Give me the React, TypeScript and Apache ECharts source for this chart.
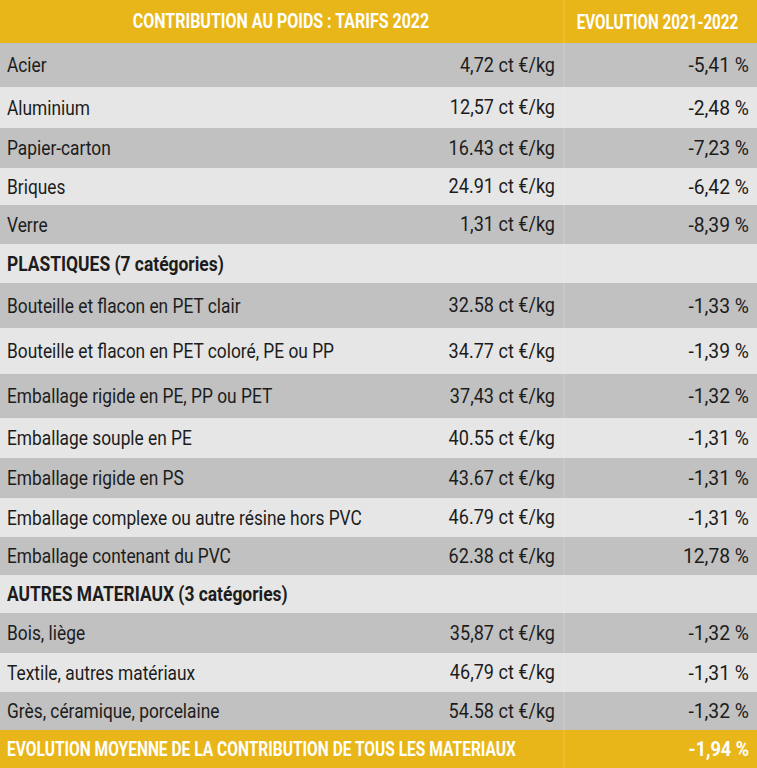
import React, { useEffect, useRef } from "react";
import * as echarts from "echarts";

// ---- data ----
const headerLabels = ["CONTRIBUTION AU POIDS : TARIFS 2022", "EVOLUTION 2021-2022"];
const categories = [
  "Acier",
  "Aluminium",
  "Papier-carton",
  "Briques",
  "Verre",
  "PLASTIQUES (7 catégories)",
  "Bouteille et flacon en PET clair",
  "Bouteille et flacon en PET coloré, PE ou PP",
  "Emballage rigide en PE, PP ou PET",
  "Emballage souple en PE",
  "Emballage rigide en PS",
  "Emballage complexe ou autre résine hors PVC",
  "Emballage contenant du PVC",
  "AUTRES MATERIAUX (3 catégories)",
  "Bois, liège",
  "Textile, autres matériaux",
  "Grès, céramique, porcelaine",
];
const tariffs = [
  "4,72", "12,57", "16.43", "24.91", "1,31", "",
  "32.58", "34.77", "37,43", "40.55", "43.67", "46.79", "62.38", "",
  "35,87", "46,79", "54.58",
];
const evolutions = [
  "-5,41", "-2,48", "-7,23", "-6,42", "-8,39", "",
  "-1,33", "-1,39", "-1,32", "-1,31", "-1,31", "-1,31", "12,78", "",
  "-1,32", "-1,31", "-1,32",
];
const sectionRows = [5, 13];
const tariffUnit = " ct €/kg";
const evolutionUnit = " %";
const footerLabel = "EVOLUTION MOYENNE DE LA CONTRIBUTION DE TOUS LES MATERIAUX";
const footerValue = "-1,94";

// ---- layout ----
const W = 757;
const H = 768;
const bounds = [0, 43, 87, 128, 168, 205, 244, 283, 328, 374, 418, 458, 498, 537, 575, 613, 653, 692, 730, 768];
const COL_SPLIT = 564;
const YELLOW = "#E9B619";
const DARK = "#C1C1C1";
const LIGHT = "#E6E6E6";
const TEXT = "#1C1C1C";
const FONT = "Roboto, 'Noto Sans', sans-serif";

function txt(text: string, x: number, y: number, align: string, opts: any = {}) {
  return {
    type: "group",
    x,
    y,
    scaleX: opts.scaleX ?? 0.8,
    children: [
      {
        type: "text",
        x: 0,
        y: 0,
        style: {
          text,
          fill: opts.fill ?? TEXT,
          font: `${opts.weight ?? "normal"} ${opts.size ?? 21}px ${FONT}`,
          textAlign: align,
          textVerticalAlign: "middle",
        },
      },
    ],
  };
}

export default function App() {
  const ref = useRef<HTMLDivElement>(null);
  useEffect(() => {
    document.body.style.margin = "0";
    const chart = echarts.init(ref.current!, undefined, { renderer: "svg" });
    const els: any[] = [];
    // header
    els.push({ type: "rect", shape: { x: 0, y: bounds[0], width: W, height: bounds[1] - bounds[0] }, style: { fill: YELLOW } });
    const hy = (bounds[0] + bounds[1]) / 2;
    els.push(txt(headerLabels[0], COL_SPLIT / 2 - 1, hy, "center", { fill: "#fff", weight: "bold", scaleX: 0.762 }));
    els.push(txt(headerLabels[1], (COL_SPLIT + W) / 2 - 3, hy, "center", { fill: "#fff", weight: "bold", scaleX: 0.725 }));
    // rows
    categories.forEach((c, i) => {
      const y0 = bounds[i + 1];
      const y1 = bounds[i + 2];
      const cy = (y0 + y1) / 2;
      els.push({ type: "rect", shape: { x: 0, y: y0, width: W, height: y1 - y0 }, style: { fill: i % 2 === 0 ? DARK : LIGHT } });
      const isSection = sectionRows.indexOf(i) >= 0;
      els.push(txt(c, 7, cy, "left", { weight: isSection ? "bold" : "normal", scaleX: isSection ? 0.83 : 0.825 }));
      if (!isSection) {
        els.push(txt(tariffs[i] + tariffUnit, 555, cy, "right", { scaleX: 0.86 }));
        els.push(txt(evolutions[i] + evolutionUnit, 749, cy, "right", { scaleX: 0.92 }));
      }
    });
    // footer
    const fy0 = bounds[bounds.length - 2];
    const fy1 = bounds[bounds.length - 1];
    els.push({ type: "rect", shape: { x: 0, y: fy0, width: W, height: fy1 - fy0 }, style: { fill: YELLOW } });
    const fcy = (fy0 + fy1) / 2;
    els.push(txt(footerLabel, 7, fcy, "left", { fill: "#fff", weight: "bold", scaleX: 0.74 }));
    els.push(txt(footerValue + evolutionUnit, 749, fcy, "right", { fill: "#fff", weight: "bold", scaleX: 0.86 }));
    // column divider
    els.push({ type: "line", shape: { x1: COL_SPLIT, y1: 0, x2: COL_SPLIT, y2: H }, style: { stroke: "rgba(255,255,255,0.22)", lineWidth: 1 } });

    chart.setOption({ animation: false, graphic: { elements: els } });
    return () => chart.dispose();
  }, []);
  return <div ref={ref} style={{ width: W, height: H }} />;
}
